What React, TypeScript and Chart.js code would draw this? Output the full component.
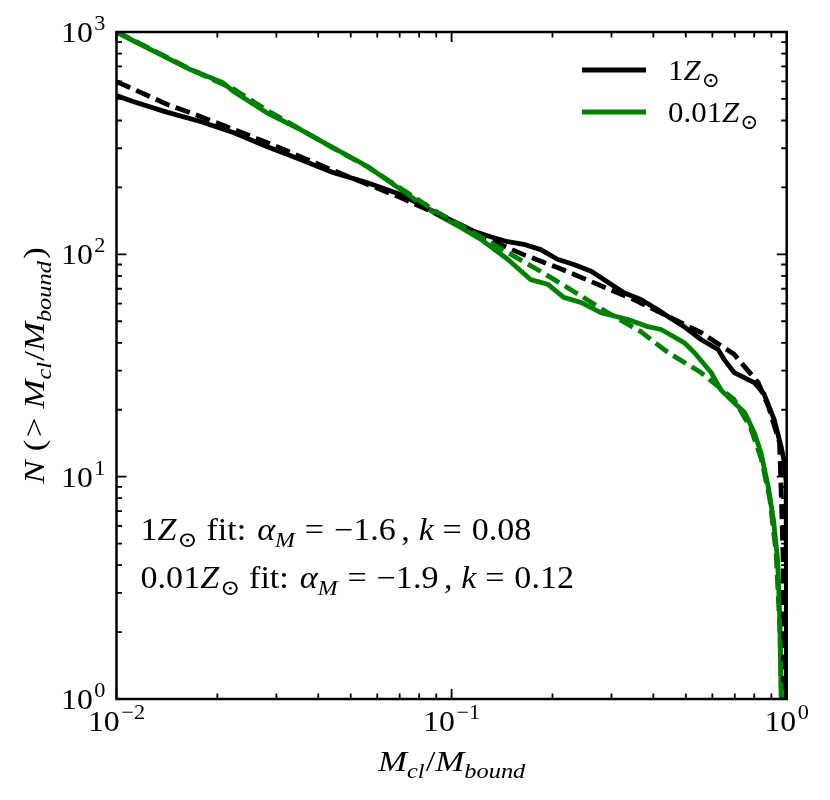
"use client"

import { useEffect, useRef } from "react"
import { Chart, registerables, type Plugin, type ChartConfiguration } from "chart.js"

Chart.register(...registerables)

// 1 Zsun run: cumulative number of clusters above M_cl/M_bound
const oneZMass = [
  0.01, 0.0112, 0.0142, 0.0178, 0.0223, 0.0282, 0.0354, 0.0444, 0.0561, 0.0704, 0.0927, 0.1164, 0.1307,
  0.147, 0.164, 0.1846, 0.207, 0.2315, 0.261, 0.292, 0.328, 0.367, 0.412, 0.442, 0.494, 0.555, 0.624,
  0.65, 0.697, 0.76, 0.8, 0.856, 0.917, 0.963, 0.985, 0.996, 0.998, 0.999,
]
const oneZCount = [
  518, 487, 435, 396, 353, 305, 267, 233, 210, 186, 150, 127, 120, 114, 111, 105, 95, 90, 84, 75, 67, 62.6,
  56.5, 52.5, 47.3, 41.4, 37.3, 33.7, 29.4, 27.5, 26.5, 23.5, 18.1, 13.6, 11.5, 9.5, 4, 1,
]

// 1 Zsun fit
const oneZFitMass = [
  0.01, 0.0142, 0.0178, 0.0282, 0.0444, 0.0704, 0.1, 0.1335, 0.164, 0.207, 0.261, 0.35, 0.555, 0.697,
  0.731, 0.822, 0.882, 0.952, 0.963, 0.976, 0.981,
]
const oneZFitCount = [
  598, 472, 417, 318, 238, 180, 142, 114, 99.7, 87.2, 75.4, 62.6, 44.5, 35.5, 32.6, 26.5, 20.7, 14.2, 8.5,
  4.2, 1,
]

// 0.01 Zsun run
const lowZMass = [
  0.01, 0.0166, 0.0208, 0.0223, 0.0281, 0.0354, 0.0444, 0.056, 0.0704, 0.0885, 0.1064, 0.122, 0.147, 0.172,
  0.1935, 0.216, 0.243, 0.279, 0.336, 0.385, 0.422, 0.494, 0.53, 0.595, 0.637, 0.697, 0.75, 0.8, 0.838,
  0.881, 0.913, 0.94, 0.952, 0.963,
]
const lowZCount = [
  998, 678, 591, 542, 433, 364, 301, 249, 196, 154, 132, 117, 95, 77, 73.4, 64, 60.8, 54.7, 50.9, 47.3,
  45.9, 40.1, 36.2, 29.4, 24.5, 21.5, 19.4, 15.8, 12.8, 9, 6.4, 4.2, 2.5, 1,
]

// 0.01 Zsun fit
const lowZFitMass = [
  0.01, 0.0166, 0.0223, 0.0281, 0.0354, 0.0444, 0.056, 0.0704, 0.0885, 0.1164, 0.147, 0.1846, 0.2315,
  0.292, 0.367, 0.442, 0.555, 0.697, 0.78, 0.84, 0.89, 0.93, 0.955, 0.965,
]
const lowZFitCount = [
  1005, 680, 555, 445, 365, 300, 248, 198, 158, 125, 102, 83.7, 68.1, 54.7, 44.9, 36.2, 29.4, 22.2, 16.6,
  12, 8, 4.5, 2, 1,
]

const xTickValues = [0.01, 0.1, 1]
const xTickPowers = ["\u22122", "\u22121", "0"]
const yTickValues = [1, 10, 100, 1000]
const yTickPowers = ["0", "1", "2", "3"]

// text pieces: it = italic, sub/sup = script, gap = extra px before the piece
type Seg = { t: string; it?: boolean; sub?: boolean; sup?: boolean; gap?: number }

const SERIF = '"Liberation Serif", "DejaVu Serif", serif'
const TICK_FS = 30

const xTitle: Seg[] = [
  { t: "M", it: true },
  { t: "cl", it: true, sub: true },
  { t: "/", gap: 1 },
  { t: "M", it: true },
  { t: "bound", it: true, sub: true },
]
const yTitle: Seg[] = [
  { t: "N", it: true },
  { t: "(", gap: 8 },
  { t: ">", gap: 2 },
  { t: "M", it: true, gap: 8 },
  { t: "cl", it: true, sub: true },
  { t: "/", gap: 1 },
  { t: "M", it: true },
  { t: "bound", it: true, sub: true },
  { t: ")", gap: 2 },
]
const legendItems: { color: string; label: Seg[] }[] = [
  { color: "#000000", label: [{ t: "1" }, { t: "Z", it: true }, { t: "\u2299", sub: true, gap: 1 }] },
  { color: "#008000", label: [{ t: "0.01" }, { t: "Z", it: true }, { t: "\u2299", sub: true, gap: 1 }] },
]
const fitNotes: Seg[][] = [
  [
    { t: "1" }, { t: "Z", it: true }, { t: "\u2299", sub: true, gap: 1 }, { t: "fit:", gap: 8 },
    { t: "\u03b1", it: true, gap: 10 }, { t: "M", it: true, sub: true }, { t: "=", gap: 9 },
    { t: "\u22121.6", gap: 9 }, { t: ",", gap: 5 }, { t: "k", it: true, gap: 8 }, { t: "=", gap: 8 },
    { t: "0.08", gap: 9 },
  ],
  [
    { t: "0.01" }, { t: "Z", it: true }, { t: "\u2299", sub: true, gap: 1 }, { t: "fit:", gap: 8 },
    { t: "\u03b1", it: true, gap: 10 }, { t: "M", it: true, sub: true }, { t: "=", gap: 9 },
    { t: "\u22121.9", gap: 9 }, { t: ",", gap: 5 }, { t: "k", it: true, gap: 8 }, { t: "=", gap: 8 },
    { t: "0.12", gap: 9 },
  ],
]

function segFont(s: Seg, size: number) {
  const sz = s.sub || s.sup ? size * 0.7 : size
  return `${s.it ? "italic " : ""}${sz}px ${SERIF}`
}

function segsWidth(ctx: CanvasRenderingContext2D, segs: Seg[], size: number) {
  let w = 0
  for (const s of segs) {
    ctx.font = segFont(s, size)
    w += (s.gap ?? 0) + ctx.measureText(s.t).width
  }
  return w
}

// draws a run of segments; stretch widens the glyphs a bit to get closer to Computer Modern
function drawSegs(
  ctx: CanvasRenderingContext2D,
  segs: Seg[],
  x: number,
  y: number,
  size: number,
  align: "left" | "center" | "right" = "left",
  stretch = 1,
) {
  const w = segsWidth(ctx, segs, size) * stretch
  const x0 = align === "left" ? x : align === "center" ? x - w / 2 : x - w
  ctx.save()
  ctx.translate(x0, y)
  ctx.scale(stretch, 1)
  ctx.textAlign = "left"
  ctx.textBaseline = "alphabetic"
  let cx = 0
  for (const s of segs) {
    ctx.font = segFont(s, size)
    cx += s.gap ?? 0
    const dy = s.sub ? size * 0.24 : s.sup ? -size * 0.4 : 0
    ctx.fillText(s.t, cx, dy)
    cx += ctx.measureText(s.t).width
  }
  ctx.restore()
}

const framePlugin: Plugin = {
  id: "frame",
  afterDatasetsDraw(chart) {
    const { ctx, chartArea: a } = chart
    const xs = chart.scales.x
    const ys = chart.scales.y
    ctx.save()
    ctx.strokeStyle = "#000"
    ctx.fillStyle = "#000"

    // inward ticks on all four sides
    ctx.lineWidth = 1.8
    const tick = (px: number, horizontal: boolean, len: number) => {
      ctx.beginPath()
      if (horizontal) {
        ctx.moveTo(px, a.bottom)
        ctx.lineTo(px, a.bottom - len)
        ctx.moveTo(px, a.top)
        ctx.lineTo(px, a.top + len)
      } else {
        ctx.moveTo(a.left, px)
        ctx.lineTo(a.left + len, px)
        ctx.moveTo(a.right, px)
        ctx.lineTo(a.right - len, px)
      }
      ctx.stroke()
    }
    xTickValues.forEach((v, i) => {
      tick(xs.getPixelForValue(v), true, 10)
      if (i < xTickValues.length - 1) for (let n = 2; n < 10; n++) tick(xs.getPixelForValue(v * n), true, 5.5)
    })
    yTickValues.forEach((v, i) => {
      tick(ys.getPixelForValue(v), false, 10)
      if (i < yTickValues.length - 1) for (let n = 2; n < 10; n++) tick(ys.getPixelForValue(v * n), false, 5.5)
    })

    ctx.lineWidth = 2.5
    ctx.strokeRect(a.left, a.top, a.right - a.left, a.bottom - a.top)

    // tick labels
    xTickValues.forEach((v, i) => {
      const segs: Seg[] = [{ t: "10" }, { t: xTickPowers[i], sup: true, gap: 1.5 }]
      drawSegs(ctx, segs, xs.getPixelForValue(v), a.bottom + 32, TICK_FS, "center", 1.06)
    })
    yTickValues.forEach((v, i) => {
      const segs: Seg[] = [{ t: "10" }, { t: yTickPowers[i], sup: true, gap: 1.5 }]
      drawSegs(ctx, segs, a.left - 11, ys.getPixelForValue(v) + 10, TICK_FS, "right", 1.06)
    })

    // axis titles
    drawSegs(ctx, xTitle, (a.left + a.right) / 2, a.bottom + 72, 30, "center", 1.16)
    ctx.save()
    ctx.translate(44, (a.top + a.bottom) / 2)
    ctx.rotate(-Math.PI / 2)
    drawSegs(ctx, yTitle, 0, 0, 30, "center", 1.16)
    ctx.restore()

    // legend
    legendItems.forEach((item, i) => {
      const y = a.top + 38 + i * 42
      ctx.strokeStyle = item.color
      ctx.lineWidth = 5
      ctx.beginPath()
      ctx.moveTo(582, y)
      ctx.lineTo(646, y)
      ctx.stroke()
      ctx.fillStyle = "#000"
      drawSegs(ctx, item.label, 668, y + 10, 30, "left", 1.03)
    })

    // fit parameters
    fitNotes.forEach((line, i) => {
      drawSegs(ctx, line, a.left + 24, 540 + i * 48, 31, "left", 1.1)
    })
    ctx.restore()
  },
}

const toPoints = (xs: number[], ys: number[]) => xs.map((x, i) => ({ x, y: ys[i] }))

const lineStyle = { showLine: true, pointRadius: 0, borderWidth: 4.8, tension: 0, borderJoinStyle: "round" as const }

export default function App() {
  const canvasRef = useRef<HTMLCanvasElement>(null)
  const chartRef = useRef<Chart | null>(null)

  useEffect(() => {
    document.body.style.margin = "0"
    if (!canvasRef.current) return
    if (chartRef.current) chartRef.current.destroy()
    const ctx = canvasRef.current.getContext("2d")
    if (!ctx) return

    const config: ChartConfiguration = {
      type: "scatter",
      data: {
        // first dataset is painted last (on top)
        datasets: [
          { ...lineStyle, label: "0.01 fit", data: toPoints(lowZFitMass, lowZFitCount), borderColor: "#008000", borderDash: [15, 6.5] },
          { ...lineStyle, label: "1 fit", data: toPoints(oneZFitMass, oneZFitCount), borderColor: "#000000", borderDash: [15, 6.5] },
          { ...lineStyle, label: "0.01Zsun", data: toPoints(lowZMass, lowZCount), borderColor: "#008000" },
          { ...lineStyle, label: "1Zsun", data: toPoints(oneZMass, oneZCount), borderColor: "#000000" },
        ],
      },
      options: {
        responsive: false,
        animation: false,
        events: [],
        layout: { padding: { left: 116.5, right: 43.3, top: 32, bottom: 101 } },
        plugins: { legend: { display: false }, tooltip: { enabled: false } },
        scales: {
          x: { type: "logarithmic", min: 0.01, max: 1, display: false },
          y: { type: "logarithmic", min: 1, max: 1000, display: false },
        },
      },
      plugins: [framePlugin],
    }

    chartRef.current = new Chart(ctx, config)

    return () => {
      if (chartRef.current) {
        chartRef.current.destroy()
        chartRef.current = null
      }
    }
  }, [])

  return (
    <div style={{ width: 830, height: 800 }}>
      <canvas ref={canvasRef} width={830} height={800} />
    </div>
  )
}
